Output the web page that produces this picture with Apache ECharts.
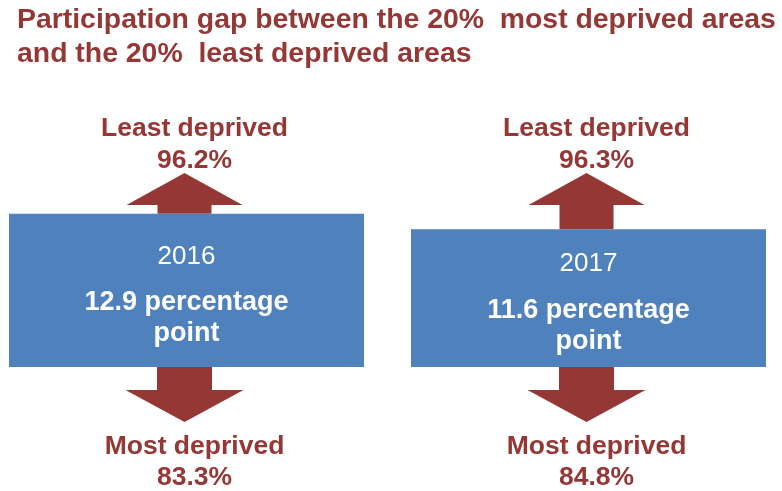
<!DOCTYPE html>
<html>
<head>
<meta charset="utf-8">
<script src="https://cdn.jsdelivr.net/npm/echarts@6/dist/echarts.min.js"></script>
<style>
html,body{margin:0;padding:0;background:#fff;}
#main{width:782px;height:491px;}
</style>
</head>
<body>
<div id="main"></div>
<script>
// ---- data ----
const titleText = 'Participation gap between the 20%  most deprived areas\nand the 20%  least deprived areas';
const years = ['2016', '2017'];
const leastDeprived = [96.2, 96.3];
const mostDeprived = [83.3, 84.8];
const gapPoints = [12.9, 11.6];
const leastLabel = 'Least deprived';
const mostLabel = 'Most deprived';
const gapUnitLine1 = 'percentage';
const gapUnitLine2 = 'point';

// ---- styles ----
const RED = '#953735';
const BLUE = '#4F81BD';
const FONT = '"Liberation Sans", Arial, sans-serif';

const seriesData = years.map((y, i) => [Number(y), gapPoints[i], leastDeprived[i], mostDeprived[i], i]);

function renderItem(params, api) {
  const i = api.value(4);
  const p0 = api.coord([api.value(0), 0]);
  const p1 = api.coord([api.value(0), api.value(1)]);
  const x = p0[0];
  const base = p0[1];
  const top = p1[1];
  const boxW = 355;
  const ax = x - 2;
  const lx = x + 8;
  const mid = (top + base) / 2;
  const children = [];
  // up arrow
  children.push({
    type: 'polygon',
    shape: { points: [
      [ax - 27, top], [ax - 27, base - 162], [ax - 58, base - 162], [ax, base - 194],
      [ax + 58, base - 162], [ax + 27, base - 162], [ax + 27, top]
    ] },
    style: { fill: RED }
  });
  // down arrow
  children.push({
    type: 'polygon',
    shape: { points: [
      [ax - 27.5, base], [ax - 27.5, base + 23], [ax - 59, base + 23], [ax, base + 55],
      [ax + 59, base + 23], [ax + 27.5, base + 23], [ax + 27.5, base]
    ] },
    style: { fill: RED }
  });
  // box
  children.push({
    type: 'rect',
    shape: { x: x - boxW / 2, y: top, width: boxW, height: base - top },
    style: { fill: BLUE }
  });
  const txt = (t, px, py, color, weight, size) => ({
    type: 'text',
    x: px, y: py,
    style: { text: t, fill: color, font: weight + ' ' + size + 'px ' + FONT, align: 'center', verticalAlign: 'middle' }
  });
  children.push(txt(leastLabel, lx, base - 238, RED, 'bold', 26.5));
  children.push(txt(leastDeprived[i].toFixed(1) + '%', lx, base - 206, RED, 'bold', 26.5));
  children.push(txt(mostLabel, lx, base + 80, RED, 'bold', 26.5));
  children.push(txt(mostDeprived[i].toFixed(1) + '%', lx, base + 111, RED, 'bold', 26.5));
  children.push(txt(years[i], x, mid - 34, '#ffffff', 'normal', 26));
  children.push(txt(gapPoints[i].toFixed(1) + ' ' + gapUnitLine1, x, mid + 12, '#ffffff', 'bold', 27));
  children.push(txt(gapUnitLine2, x, mid + 43, '#ffffff', 'bold', 27));
  return { type: 'group', children: children };
}

const chart = echarts.init(document.getElementById('main'), null, { renderer: 'canvas' });
chart.setOption({
  animation: false,
  backgroundColor: '#ffffff',
  title: {
    text: titleText,
    left: 17,
    top: 3,
    padding: 0,
    textStyle: { fontFamily: FONT, fontSize: 28.4, fontWeight: 'bold', color: RED, lineHeight: 34 }
  },
  grid: { left: 0, right: 0, top: 10.6, bottom: 124 },
  xAxis: { type: 'value', min: 2015.53607, max: 2017.48134, show: false },
  yAxis: { type: 'value', min: 0, max: 30, show: false },
  series: [{
    type: 'custom',
    renderItem: renderItem,
    data: seriesData,
    clip: false
  }]
});
</script>
</body>
</html>
